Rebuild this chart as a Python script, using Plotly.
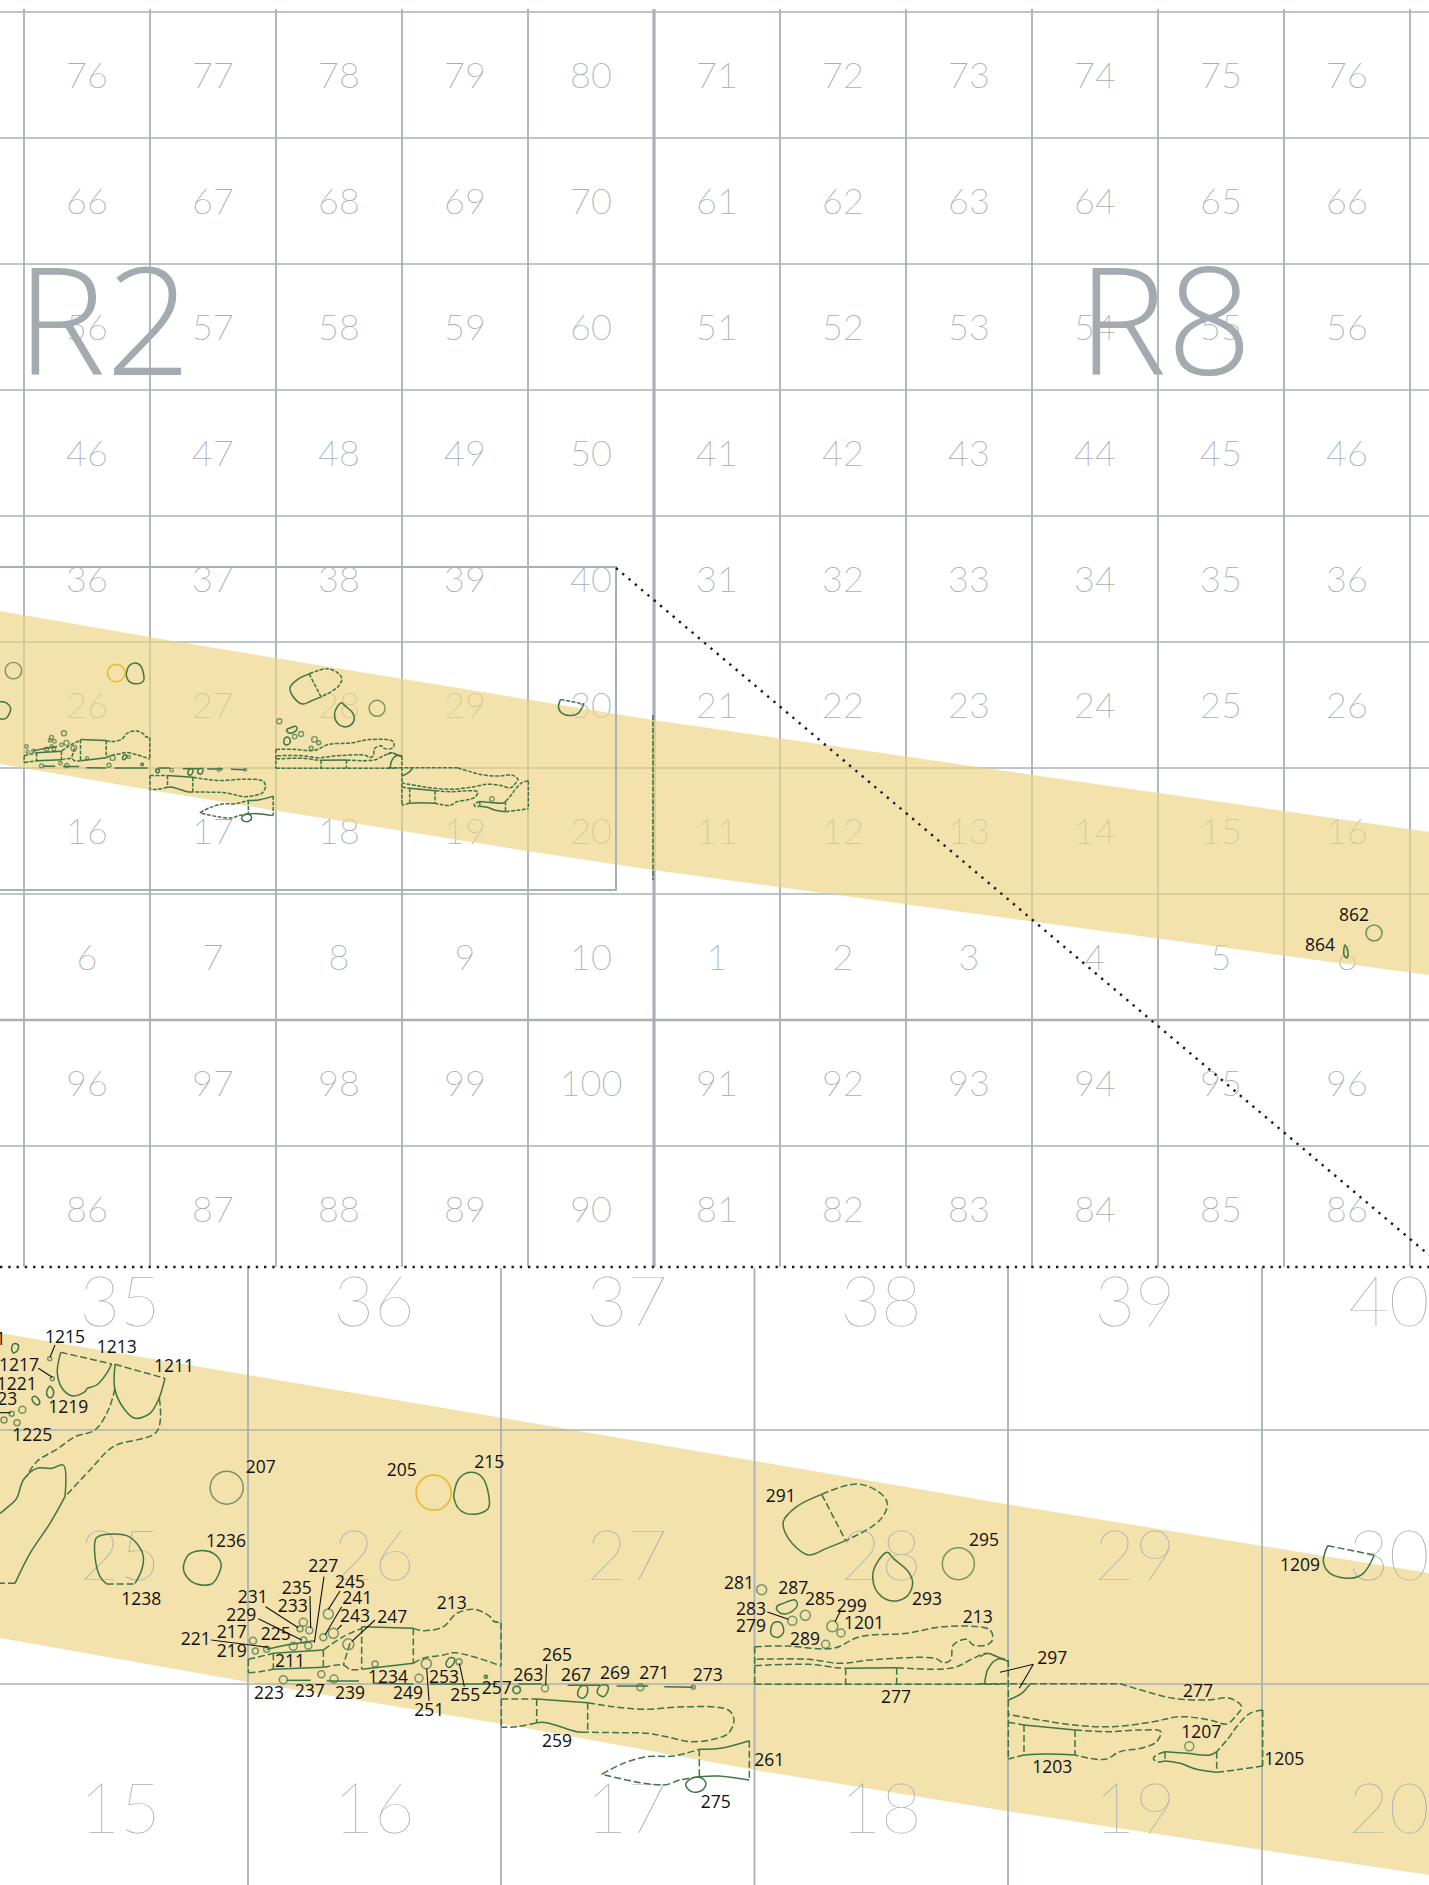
import plotly.graph_objects as go

W, H = 1429, 1885
# ---------- grid ----------
up_v = [24, 150, 276, 402, 528, 780, 906, 1032, 1158, 1284, 1410]
up_v_thick = [654]
up_h = [12, 138, 264, 390, 516, 642, 768, 894, 1146]
up_h_thick = [1020]
low_v = [248, 501, 754.5, 1008, 1262]
low_h = [1430, 1684]
up_num_x = [87, 213, 339, 465, 591, 717, 843, 969, 1095, 1221, 1347]
up_num_y = [79, 205, 331, 457, 583, 709, 835, 961, 1087, 1213]
up_rows = [
    [76, 77, 78, 79, 80, 71, 72, 73, 74, 75, 76],
    [66, 67, 68, 69, 70, 61, 62, 63, 64, 65, 66],
    [56, 57, 58, 59, 60, 51, 52, 53, 54, 55, 56],
    [46, 47, 48, 49, 50, 41, 42, 43, 44, 45, 46],
    [36, 37, 38, 39, 40, 31, 32, 33, 34, 35, 36],
    [26, 27, 28, 29, 30, 21, 22, 23, 24, 25, 26],
    [16, 17, 18, 19, 20, 11, 12, 13, 14, 15, 16],
    [6, 7, 8, 9, 10, 1, 2, 3, 4, 5, 6],
    [96, 97, 98, 99, 100, 91, 92, 93, 94, 95, 96],
    [86, 87, 88, 89, 90, 81, 82, 83, 84, 85, 86],
]
low_num_x = [120, 374, 627, 881, 1135, 1389]
low_num_y = [1308, 1562, 1815]
low_rows = [[35, 36, 37, 38, 39, 40], [25, 26, 27, 28, 29, 30], [15, 16, 17, 18, 19, 20]]

# ---------- bands ----------
up_band_top = [(0, 611), (167, 640), (330, 667), (653, 720), (1429, 832)]
up_band_bot = [(1429, 975), (1250, 951), (653, 870), (527, 851), (260, 808), (150, 790), (0, 764)]
low_band_top = [(0, 1333), (248, 1375), (520, 1421), (755, 1461), (1000, 1503), (1262, 1546), (1429, 1573)]
low_band_bot = [(1429, 1875), (1262, 1850), (1000, 1810), (755, 1770), (520, 1727), (248, 1682), (0, 1638)]

# ---------- features, read in three crops of the lower panel ----------
Z1_SOLID = [
    [(182, 277), (172, 340), (190, 390), (220, 408), (255, 395), (262, 385), (290, 375), (320, 340), (335, 312)],
    [(345, 313), (345, 390), (375, 450), (405, 475), (450, 460), (475, 420), (495, 355)],
    [(195, 710), (190, 615), (155, 625), (110, 625), (70, 660), (50, 715), (25, 740), (0, 760)],
    [(195, 710), (150, 790), (90, 880), (45, 970)],
    [(320, 972), (300, 950), (285, 890), (288, 835), (310, 824), (380, 827), (410, 850), (430, 890), (425, 930), (405, 970)],
    [(550, 925), (565, 885), (600, 872), (640, 880), (663, 910), (655, 945), (635, 972), (590, 972), (560, 950), (550, 925)],
    [(1362, 700), (1378, 655), (1412, 637), (1445, 650), (1463, 690), (1465, 745), (1420, 763), (1380, 750), (1362, 715), (1362, 700)],
    [(820, 1180), (970, 1170)],
    [(1085, 1100), (1240, 1105)],
    [(1085, 1228), (1240, 1210)],
    [(820, 1228), (970, 1222)],
    [(800, 1168), (860, 1155), (945, 1142)],
    [(860, 1261), (932, 1261)],
    [(980, 1263), (1077, 1263)],
    [(1120, 1270), (1240, 1272)],
    [(1290, 1272), (1490, 1272)],
    [(35, 265), (42, 251), (55, 255), (52, 272), (40, 279), (35, 265)],
    [(140, 395), (150, 379), (161, 395), (155, 412), (144, 410), (140, 395)],
    [(96, 415), (105, 409), (119, 424), (115, 434), (104, 431), (96, 415)],
    [(1338, 1212), (1350, 1193), (1364, 1197), (1358, 1215), (1345, 1222), (1338, 1212)],
]
Z1_DASH = [
    [(182, 277), (335, 312)],
    [(345, 313), (495, 355)],
    [(345, 385), (325, 450), (285, 510), (225, 530), (175, 565), (110, 605), (80, 650)],
    [(478, 415), (470, 515), (340, 560), (270, 630), (195, 710)],
    [(320, 972), (405, 972)],
    [(45, 970), (0, 970)],
    [(745, 1198), (745, 1238)],
    [(745, 1198), (820, 1180)],
    [(970, 1170), (1030, 1130), (1085, 1105)],
    [(1240, 1105), (1240, 1210)],
    [(1085, 1100), (1085, 1228)],
    [(1240, 1105), (1270, 1112), (1330, 1100), (1370, 1060), (1425, 1048), (1470, 1070), (1480, 1083), (1503, 1088)],
    [(1503, 1088), (1503, 1218)],
    [(1240, 1210), (1270, 1195), (1330, 1185), (1360, 1178), (1420, 1190), (1503, 1218)],
    [(745, 1238), (780, 1235), (820, 1228)],
    [(970, 1222), (1030, 1215), (1050, 1228), (1085, 1228)],
    [(820, 1180), (820, 1228)],
    [(970, 1170), (970, 1222)],
    [(1050, 1150), (1030, 1215)],
]
Z1_LEADER = [
    [(165, 255), (150, 292)], [(115, 325), (157, 352)], [(0, 458), (32, 458)],
    [(797, 1040), (895, 1103)], [(775, 1076), (905, 1140)], [(634, 1140), (805, 1162)],
    [(930, 1008), (932, 1105)], [(972, 950), (943, 1148)], [(1020, 993), (985, 1048)],
    [(1025, 1040), (975, 1125)], [(1025, 1095), (1012, 1108)], [(1125, 1080), (1055, 1145)],
    [(1280, 1225), (1287, 1322)], [(1378, 1210), (1393, 1280)],
]
Z1_DOT_X = [149, 157, 67, 35, 51, 12, 680, 1045, 985, 1000, 970, 910, 900, 928, 911, 925, 880, 759, 766, 800, 850, 964, 1002, 1125, 1257, 1279, 1377, 1458, 1550]
Z1_DOT_Y = [296, 356, 449, 461, 488, 480, 683, 1153, 1062, 1120, 1132, 1087, 1106, 1111, 1140, 1157, 1159, 1142, 1173, 1168, 1259, 1243, 1257, 1212, 1255, 1211, 1205, 1250, 1290]
Z1_DOT_D = [4, 4, 7, 5, 6, 6, 33, 11, 10, 10, 7, 8, 6, 7, 6, 7, 8, 7, 6, 6, 8, 7, 8, 6, 8, 10, 6, 3, 7]
Z1_YELLOW_X, Z1_YELLOW_Y, Z1_YELLOW_D = [1301], [698], [35]

Z2_SOLID = [
    [(170, 897), (323, 908)],
    [(323, 997), (290, 995), (200, 968), (170, 968)],
    [(658, 1048), (720, 1045), (808, 1022)],
    [(808, 1140), (715, 1128), (658, 1130)],
    [(617, 1155), (630, 1138), (660, 1132), (678, 1150), (665, 1172), (635, 1175), (617, 1155)],
    [(115, 852), (185, 852)], [(263, 856), (360, 856)], [(410, 858), (505, 858)], [(553, 860), (640, 862)],
    [(890, 620), (910, 610), (945, 600), (952, 615), (935, 635), (915, 642), (895, 635), (890, 620)],
    [(1025, 283), (950, 320), (910, 365), (925, 415), (985, 465), (1040, 445), (1097, 422)],
    [(1222, 457), (1190, 490), (1178, 530), (1195, 580), (1235, 603), (1280, 590), (1298, 550), (1285, 515), (1240, 475), (1222, 457)],
    [(1097, 805), (1250, 803)],
    [(293, 885), (302, 860), (320, 858), (322, 880), (308, 895), (293, 885)],
    [(352, 878), (360, 858), (382, 856), (384, 872), (370, 890), (352, 878)],
    [(872, 690), (882, 668), (902, 668), (911, 695), (895, 712), (875, 705), (872, 690)],
]
Z2_DASH = [
    [(64, 897), (64, 982)],
    [(64, 897), (170, 897)],
    [(323, 908), (400, 920), (490, 928), (620, 920), (745, 930), (762, 960), (745, 1000), (700, 1018), (630, 1025), (560, 1010), (500, 1000), (420, 998), (323, 997)],
    [(170, 968), (110, 980), (64, 982)],
    [(170, 897), (170, 968)],
    [(323, 908), (323, 997)],
    [(365, 1123), (430, 1090), (500, 1070), (580, 1068), (658, 1048)],
    [(808, 1022), (808, 1140)],
    [(658, 1048), (658, 1130)],
    [(658, 1130), (600, 1140), (550, 1155), (365, 1123)],
    [(1025, 283), (1130, 252), (1195, 275), (1222, 310), (1200, 360), (1097, 422)],
    [(1025, 283), (1097, 422)],
    [(824, 740), (920, 738), (1060, 745), (1140, 710), (1280, 700), (1390, 680), (1530, 690), (1537, 720), (1520, 735), (1480, 735), (1460, 718), (1420, 735), (1412, 780), (1390, 788), (1365, 775), (1170, 780), (1080, 790), (985, 778), (824, 778)],
    [(824, 797), (985, 793), (1070, 803), (1097, 805)],
    [(1250, 803), (1420, 803), (1480, 775), (1520, 760), (1560, 775)],
    [(824, 740), (824, 853)],
    [(824, 853), (1560, 853)],
    [(1097, 805), (1097, 853)],
    [(1250, 803), (1250, 853)],
]
Z2_LEADER = [[(200, 793), (197, 855)], [(862, 636), (925, 658)], [(1080, 635), (1065, 665)]]
Z2_DOT_X = [110, 195, 481, 640, 17, 845, 937, 976, 1057, 1083, 1037, 1435]
Z2_DOT_Y = [869, 865, 862, 862, 830, 569, 662, 646, 679, 699, 733, 491]
Z2_DOT_D = [8, 7, 7, 4, 3, 10, 9, 10, 11, 8, 8, 32]

Z3_SOLID = [
    [(14, 610), (25, 565), (55, 537), (85, 545)],
    [(85, 660), (125, 640), (150, 612)],
    [(132, 735), (285, 750)],
    [(285, 825), (200, 822), (132, 825)],
    [(710, 815), (690, 825), (620, 820), (555, 815)],
    [(555, 843), (600, 850), (650, 868), (710, 877)],
    [(1043, 197), (1030, 245), (1050, 280), (1110, 295), (1150, 280), (1183, 225)],
]
Z3_DASH = [
    [(0, 530), (25, 520), (50, 530), (85, 540)],
    [(85, 540), (85, 835)],
    [(0, 611), (420, 611)],
    [(420, 611), (500, 635), (580, 655), (680, 660), (750, 655), (785, 680), (770, 705), (740, 732), (690, 720), (600, 710), (520, 725), (400, 740), (280, 735), (180, 720), (85, 703)],
    [(85, 727), (132, 735)],
    [(285, 750), (390, 755), (480, 750), (542, 755), (530, 785), (490, 803), (420, 815), (375, 838), (285, 825)],
    [(132, 825), (85, 837)],
    [(132, 735), (132, 825)],
    [(285, 750), (285, 825)],
    [(848, 690), (810, 700), (770, 740), (745, 775), (710, 815)],
    [(555, 815), (530, 825), (520, 835), (530, 845), (555, 843)],
    [(710, 877), (780, 868), (848, 858)],
    [(848, 690), (848, 858)],
    [(710, 815), (710, 877)],
    [(555, 815), (555, 843)],
    [(1043, 197), (1183, 225)],
]
Z3_LEADER = [[(60, 577), (160, 553), (118, 625)]]
Z3_DOT_X, Z3_DOT_Y, Z3_DOT_D = [628], [799], [9]

Z1_LABELS = [("1231", -43, 241), ("1215", 195, 235), ("1213", 350, 265), ("1217", 57, 321), ("1211", 522, 323), ("1221", 50, 376), ("1223", -8, 421),
    ("1219", 205, 445), ("1225", 97, 530), ("207", 782, 625), ("205", 1205, 635), ("215", 1468, 611), ("1236", 678, 848), ("1238", 424, 1021),
    ("227", 970, 923), ("245", 1050, 971), ("235", 890, 990), ("241", 1072, 1018), ("231", 758, 1017), ("233", 878, 1043), ("229", 724, 1069),
    ("243", 1065, 1073), ("247", 1177, 1075), ("213", 1355, 1035), ("225", 827, 1126), ("217", 695, 1121), ("221", 587, 1141), ("219", 695, 1178),
    ("211", 870, 1208), ("1234", 1164, 1255), ("253", 1332, 1255), ("223", 807, 1303), ("237", 929, 1298), ("239", 1050, 1303), ("249", 1224, 1303),
    ("255", 1396, 1311), ("251", 1288, 1355), ("257", 1490, 1288)]
Z2_LABELS = [("263", 145, 830), ("265", 231, 770), ("267", 288, 830), ("269", 405, 823), ("271", 523, 825), ("273", 683, 830), ("259", 231, 1028),
    ("261", 868, 1085), ("275", 707, 1211), ("291", 902, 293), ("281", 777, 553), ("287", 940, 568), ("285", 1020, 601), ("299", 1115, 623),
    ("283", 813, 631), ("279", 813, 683), ("1201", 1152, 673), ("289", 975, 721), ("293", 1341, 601), ("295", 1512, 425), ("213", 1493, 656), ("277", 1248, 895)]
Z3_LABELS = [("297", 217, 538), ("277", 654, 638), ("1207", 664, 760), ("1203", 217, 865), ("1205", 913, 841), ("1209", 960, 261)]

# upper panel extras
far_dot_x, far_dot_y, far_dot_d = [1374], [933], [16]
far_tag_path = [[(1345, 945), (1348, 952), (1347, 958), (1344, 955), (1345, 945)]]
far_labels = [("862", 1354, 917), ("864", 1320, 947)]
seam_x = [653, 653]
seam_y = [715, 880]
detail_x = [0, 616, 616, 0]
detail_y = [567, 567, 890, 890]
dotted_paths = [[(616, 568), (1429, 1255)], [(0, 1267), (1429, 1267)]]
region_names = [("R2", 104, 337), ("R8", 1165, 337)]

# ---------- styling ----------
GRID = "#a9b1b8"
GREEN = "#3f7444"
NUM = "#a6aeb5"
THIN_SMALL = "Lato Thin, Lato Hairline, Lato Light, Lato"
THIN_BIG = "Lato Hairline, Lato Thin, Lato Light, Lato"

z1 = lambda p: (p[0] / 3, 1260 + p[1] / 3)
z2 = lambda p: (480 + p[0] / 3, 1400 + p[1] / 3)
z3 = lambda p: (980 + p[0] / 3, 1480 + p[1] / 3)
up = lambda p: (24 + (p[0] - 248) * 126 / 253.5, 642 + (p[1] - 1430) * 126 / 254)

def flat(paths):
    xs, ys = [], []
    for path in paths:
        xs += [q[0] for q in path] + [None]
        ys += [q[1] for q in path] + [None]
    return xs, ys

def conv(paths, f):
    return [[f(q) for q in path] for path in paths]

solid = conv(Z1_SOLID, z1) + conv(Z2_SOLID, z2) + conv(Z3_SOLID, z3)
dash = conv(Z1_DASH, z1) + conv(Z2_DASH, z2) + conv(Z3_DASH, z3)
leader = conv(Z1_LEADER, z1) + conv(Z2_LEADER, z2) + conv(Z3_LEADER, z3)
dots = [z1(q) for q in zip(Z1_DOT_X, Z1_DOT_Y)] + [z2(q) for q in zip(Z2_DOT_X, Z2_DOT_Y)] + [z3(q) for q in zip(Z3_DOT_X, Z3_DOT_Y)]
dot_d = Z1_DOT_D + Z2_DOT_D + Z3_DOT_D
yellow = [z1(q) for q in zip(Z1_YELLOW_X, Z1_YELLOW_Y)]
labels = [(t, *z1((x, y))) for t, x, y in Z1_LABELS] + [(t, *z2((x, y))) for t, x, y in Z2_LABELS] + [(t, *z3((x, y))) for t, x, y in Z3_LABELS]

fig = go.Figure()

def lines(paths, color, width, dash_style=None, shape="linear"):
    xs, ys = flat(paths)
    fig.add_trace(go.Scatter(x=xs, y=ys, mode="lines", hoverinfo="skip",
                             line=dict(color=color, width=width, dash=dash_style, shape=shape, smoothing=1.0)))

def texts(items, color, size, family):
    fig.add_trace(go.Scatter(x=[i[1] for i in items], y=[i[2] for i in items], text=[i[0] for i in items],
                             mode="text", textposition="middle center", hoverinfo="skip",
                             textfont=dict(color=color, size=size, family=family)))

def band(top, bot, color):
    pts = top + bot + top[:1]
    fig.add_trace(go.Scatter(x=[p[0] for p in pts], y=[p[1] for p in pts], mode="none", fill="toself",
                             fillcolor=color, hoverinfo="skip"))

def rings(points, sizes, color, width):
    fig.add_trace(go.Scatter(x=[p[0] for p in points], y=[p[1] for p in points], mode="markers", hoverinfo="skip",
                             marker=dict(symbol="circle-open", size=sizes, color=color, line=dict(color=color, width=width))))

# upper panel: grid and numbers sit beneath a translucent band
lines([[(x, 9), (x, 1267)] for x in up_v], GRID, 1.8)
lines([[(x, 9), (x, 1267)] for x in up_v_thick], GRID, 3.2)
lines([[(0, y), (W, y)] for y in up_h], GRID, 1.6)
lines([[(0, y), (W, y)] for y in up_h_thick], GRID, 2.6)
texts([(str(v), up_num_x[c], up_num_y[r]) for r, row in enumerate(up_rows) for c, v in enumerate(row)], NUM, 36, THIN_SMALL)
band(up_band_top, up_band_bot, "rgba(236,210,126,0.65)")
texts(region_names, "#a3abb1", 150, "Open Sans Light, Lato Light, Open Sans")
lines(conv(solid, up), GREEN, 1.5, None, "spline")
lines(conv(dash, up), GREEN, 1.5, "4px,1.5px", "spline")
rings([up(p) for p in dots], [max(d / 2, 2.5) for d in dot_d], GREEN, 1.4)
rings([up(p) for p in yellow], [d / 2 for d in Z1_YELLOW_D], "#e0b000", 1.6)
rings(list(zip(far_dot_x, far_dot_y)), far_dot_d, GREEN, 1.6)
lines(far_tag_path, GREEN, 1.5, None, "spline")
lines([list(zip(seam_x, seam_y))], GREEN, 1.5, "5px,1.5px")
texts(far_labels, "#111111", 17.5, "Open Sans")
lines([list(zip(detail_x, detail_y))], GRID, 2)

# lower panel: opaque band beneath grid
band(low_band_top, low_band_bot, "#f3e2ab")
lines([[(x, 1268), (x, H)] for x in low_v], GRID, 1.8)
lines([[(0, y), (W, y)] for y in low_h], GRID, 1.6)
texts([(str(v), low_num_x[c], low_num_y[r]) for r, row in enumerate(low_rows) for c, v in enumerate(row)], NUM, 70, THIN_BIG)
lines(solid, GREEN, 1.5, None, "spline")
lines(dash, GREEN, 1.5, "7px,3px", "spline")
rings(dots, dot_d, GREEN, 1.5)
rings(yellow, Z1_YELLOW_D, "#e0b000", 1.8)
lines(leader, "#111111", 1.1)
texts(labels, "#111111", 17.5, "Open Sans")
lines(dotted_paths, "#1c1c1c", 2.4, "2.4px,5.85px")

fig.update_layout(width=W, height=H, autosize=False, showlegend=False, margin=dict(l=0, r=0, t=0, b=0),
                  paper_bgcolor="white", plot_bgcolor="white",
                  xaxis=dict(range=[0, W], visible=False, fixedrange=True),
                  yaxis=dict(range=[H, 0], visible=False, fixedrange=True))
fig.write_html("out.html", config={"displayModeBar": False},
               post_script="document.body.style.margin='0';document.body.style.overflow='hidden';")
